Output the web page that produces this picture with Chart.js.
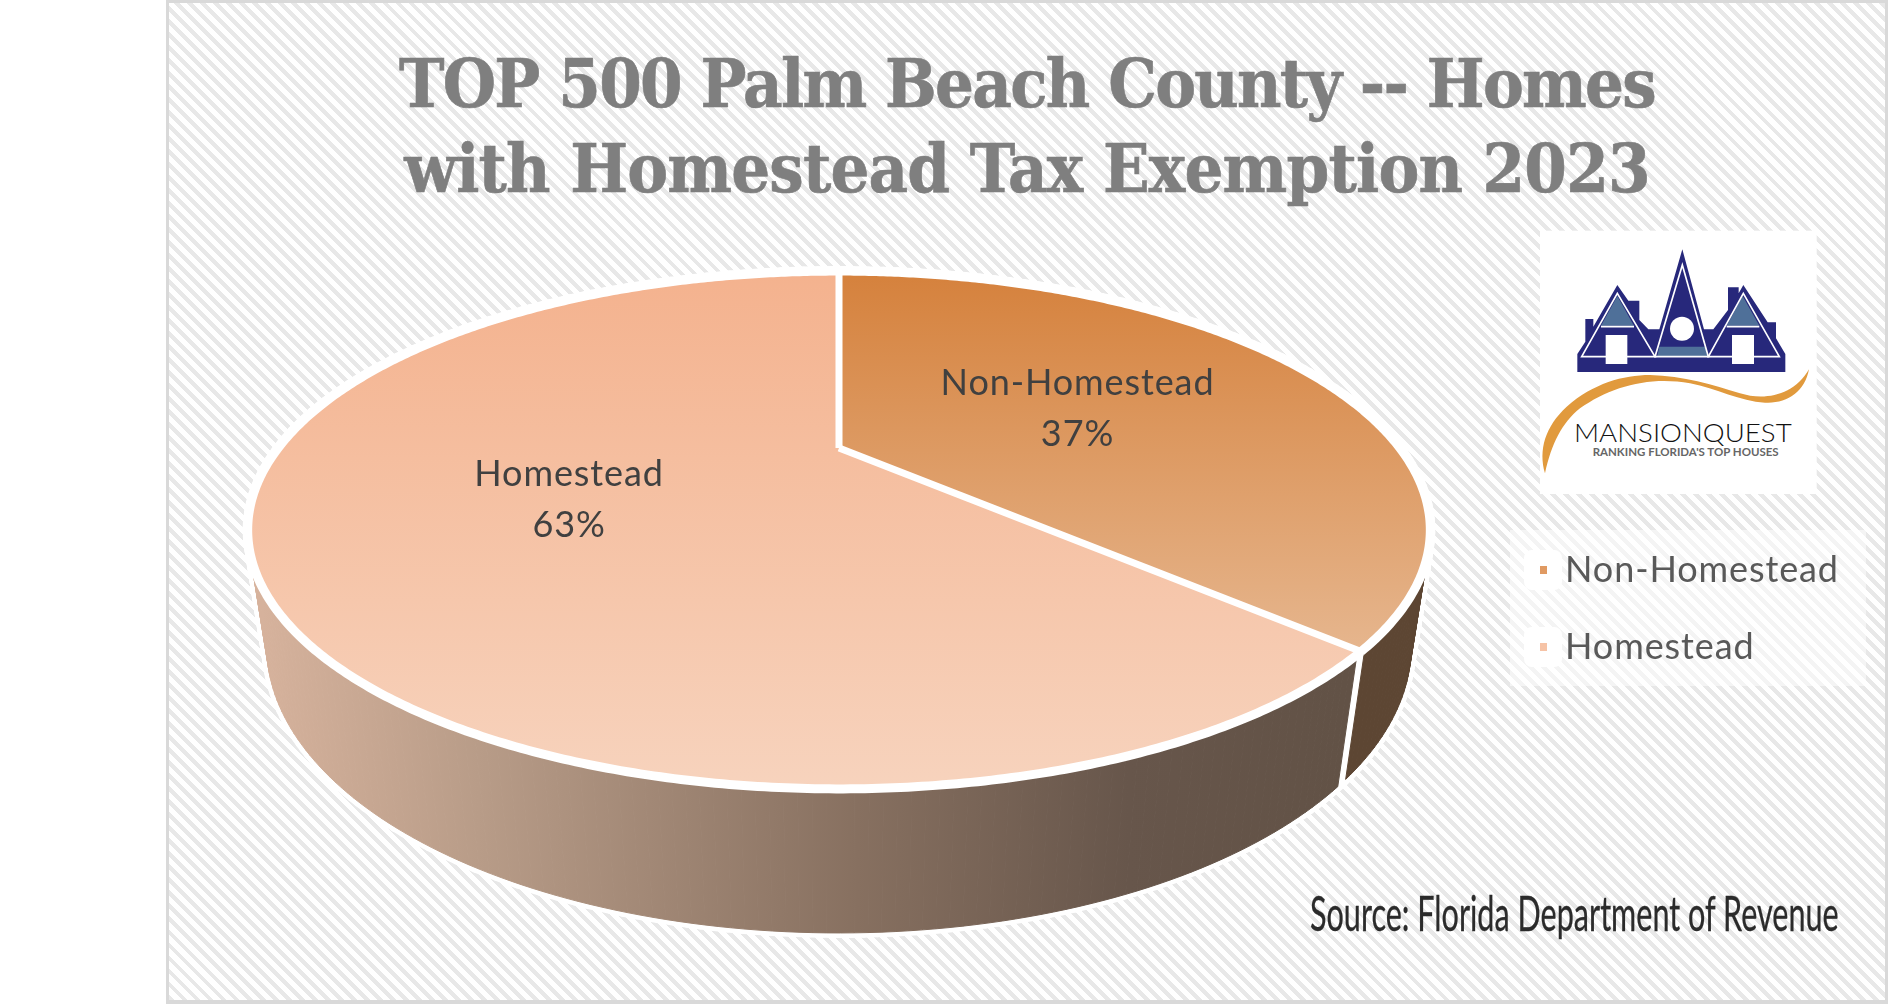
<!DOCTYPE html>
<html>
<head>
<meta charset="utf-8">
<title>TOP 500 Palm Beach County</title>
<script src="https://cdn.jsdelivr.net/npm/chart.js@4"></script>
<style>
  html, body { margin: 0; padding: 0; background: #fff; }
  body { position: relative; width: 1888px; height: 1004px; overflow: hidden; }
  #frame {
    position: absolute; left: 166px; top: 0; width: 1722px; height: 1004px; box-sizing: border-box;
    border: 3px solid #d9d9d9; border-bottom-width: 4px;
    background: repeating-linear-gradient(45deg, #e8e8e8 0, #e8e8e8 4.2px, #fff 4.2px, #fff 9.2px);
  }
  #pie { position: absolute; left: 0; top: 0; }
  #title {
    position: absolute; left: 166px; width: 1722px; top: 41px; text-align: center;
    font: bold 68px/85px "DejaVu Serif Condensed", "DejaVu Serif", serif; font-stretch: condensed; color: #7f7f7f;
    -webkit-text-stroke: .6px #7f7f7f;
  }
  #title span { display: block; white-space: nowrap; }
  #title .l1 { letter-spacing: -1.7px; }
  #title .l2 { letter-spacing: -.8px; }
  #logo { position: absolute; left: 1500px; top: 210px; }
  #legendBand { position: absolute; left: 1510px; top: 530px; width: 356px; height: 156px; background: rgba(255,255,255,.5); }
  #legend { position: absolute; left: 1524px; top: 528px; }
  .item { position: absolute; left: 0; width: 340px; height: 40px; }
  .pad { position: absolute; left: 0; top: 2px; width: 38px; height: 40px; background: #fff; border-radius: 8px; }
  .swatch { position: absolute; left: 16px; top: 18px; width: 7px; height: 8px; }
  .name { position: absolute; left: 41px; top: -6px; font: 36px/52px Lato, sans-serif; letter-spacing: .9px; color: #595959; white-space: nowrap; }
  #source {
    position: absolute; left: 1310px; top: 885px; font: 48px/56px Lato, sans-serif; color: #2b2b2b;
    -webkit-text-stroke: .3px #2b2b2b;
    transform: scale(.637, 1); transform-origin: left top; white-space: nowrap; filter: blur(.4px);
  }
</style>
</head>
<body>
<div id="frame"></div>
<canvas id="pie" width="1888" height="1004"></canvas>
<div id="title"><span class="l1">TOP 500 Palm Beach County -- Homes</span><span class="l2">with Homestead Tax Exemption 2023</span></div>

<svg id="logo" width="388" height="490" viewBox="0 0 1164 1470">
  <rect x="120" y="62" width="830" height="790" fill="#fff"/>
  <polygon fill="#27287b" points="232,486 856,486 856,432 828,385 828,337 803,337 730,225 716,250 716,232 684,232 684,300 640,358 612,358 547,118 478,358 445,358 418,330 418,272 385,272 352,225 280,350 280,327 256,327 256,395 232,432"/>
  <polygon fill="#4f7099" points="352,258 303,347 402,347"/>
  <polygon fill="#4f7099" points="728,258 680,347 778,347"/>
  <polygon fill="#4f7099" points="478,410 616,410 622,438 472,438"/>
  <g fill="none" stroke="#fff" stroke-width="5">
    <polygon points="352,250 245,440 465,440"/>
    <polygon points="730,250 625,440 838,440"/>
    <polygon points="547,165 465,440 625,440"/>
    <line x1="303" y1="350" x2="402" y2="350"/>
    <line x1="680" y1="350" x2="778" y2="350"/>
  </g>
  <circle cx="546" cy="356" r="36" fill="#fff"/>
  <rect x="317" y="375" width="65" height="87" fill="#fff"/>
  <rect x="696" y="375" width="66" height="87" fill="#fff"/>
  <path fill="#e19a3d" d="M135,790 C115,720 135,650 200,590 C280,520 370,495 450,495 C550,497 640,525 720,550 C790,572 880,560 927,478 C915,545 860,582 795,578 C720,575 650,535 570,520 C450,497 330,530 240,595 C185,640 155,700 135,790 Z"/>
  <text x="222" y="695" font-family="Lato, sans-serif" font-weight="300" font-size="76" fill="#111" textLength="653" lengthAdjust="spacingAndGlyphs">MANSIONQUEST</text>
  <text x="278" y="738" font-family="Lato, sans-serif" font-size="34" font-weight="bold" fill="#666" textLength="558" lengthAdjust="spacingAndGlyphs">RANKING FLORIDA'S TOP HOUSES</text>
</svg>

<div id="legendBand"></div>
<div id="legend"></div>
<div id="source">Source: Florida Department of Revenue</div>

<script>
const categories = ['Non-Homestead', 'Homestead'];
const shares = [37, 63];

// top face gradients, wall colours and how the disc is tilted
const topGradients = [['#d5813c', '#e6b68e'], ['#f4b28e', '#f7d3bd']];
const wallStops = [[0, '#d6b29c'], [0.2, '#b89c88'], [0.55, '#877060'], [0.8, '#67564b'], [1, '#625246']];
const darkWall = '#5d4633';
const swatchColors = ['#e09a62', '#f6c3a6'];
const TILT = { sx: 1.252, sy: 0.52, k: 0.3166, depthW: 0.03, drop: 113 };
const LABEL_FONT = '36px Lato, sans-serif';

// perspective projection of a point of the flat pie; depth 0 = top face, 1 = bottom
function project(arc, angle, t, depth) {
  const R = arc.outerRadius;
  const c = Math.cos(angle) * t, s = Math.sin(angle) * t;
  const w = 1 + TILT.depthW * depth - TILT.k * s;
  return {
    x: arc.x + TILT.sx * R * c / w,
    y: arc.y + (TILT.sy * R * s + TILT.drop * depth) / w
  };
}

function wallStrips(arc, inset) {
  const strips = [];
  const from = arc.startAngle + inset, to = arc.endAngle - inset;
  const step = Math.PI / 180;
  for (let a = from; a < to; a += step) {
    const b = Math.min(a + step, to);
    strips.push([project(arc, a, 1, 0), project(arc, b, 1, 0), project(arc, b, 1, 1), project(arc, a, 1, 1)]);
  }
  return strips;
}

function tracePoly(ctx, pts) {
  ctx.beginPath();
  pts.forEach((p, i) => i ? ctx.lineTo(p.x, p.y) : ctx.moveTo(p.x, p.y));
  ctx.closePath();
}

function topFace(arc) {
  const pts = [{ x: arc.x, y: arc.y }];
  for (let a = arc.startAngle; a < arc.endAngle; a += Math.PI / 360) pts.push(project(arc, a, 1, 0));
  pts.push(project(arc, arc.endAngle, 1, 0));
  return pts;
}

const pie3d = {
  id: 'pie3d',
  beforeDatasetDraw(chart) {
    const ctx = chart.ctx;
    const arcs = chart.getDatasetMeta(0).data;
    ctx.save();
    ctx.lineJoin = 'round';

    // white edge round the wall
    ctx.strokeStyle = '#fff';
    ctx.lineWidth = 10;
    arcs.forEach(arc => wallStrips(arc, 0).forEach(q => { tracePoly(ctx, q); ctx.stroke(); }));

    const wallGrad = ctx.createLinearGradient(262, 0, 1345, 0);
    wallStops.forEach(s => wallGrad.addColorStop(s[0], s[1]));
    arcs.forEach((arc, i) => {
      const fill = i === 0 ? darkWall : wallGrad;
      ctx.fillStyle = fill;
      ctx.strokeStyle = fill;
      ctx.lineWidth = 1;
      wallStrips(arc, 0.012).forEach(q => { tracePoly(ctx, q); ctx.fill(); ctx.stroke(); });
    });

    // top faces, white rim and dividers go over the fills
    arcs.forEach((arc, i) => {
      const pts = topFace(arc);
      const ys = pts.map(p => p.y);
      const g = ctx.createLinearGradient(0, Math.min(...ys), 0, Math.max(...ys));
      g.addColorStop(0, topGradients[i][0]);
      g.addColorStop(1, topGradients[i][1]);
      tracePoly(ctx, pts);
      ctx.fillStyle = g;
      ctx.fill();
    });
    ctx.strokeStyle = '#fff';
    ctx.lineWidth = 9;
    arcs.forEach(arc => {
      ctx.beginPath();
      topFace(arc).slice(1).forEach((p, i) => i ? ctx.lineTo(p.x, p.y) : ctx.moveTo(p.x, p.y));
      ctx.stroke();
    });
    ctx.lineWidth = 7;
    arcs.forEach(arc => {
      const a = project(arc, arc.startAngle, 1, 0);
      ctx.beginPath();
      ctx.moveTo(a.x, a.y);
      ctx.lineTo(arc.x, arc.y);
      ctx.stroke();
    });
    ctx.restore();
    return false;
  },
  afterDatasetsDraw(chart) {
    const ctx = chart.ctx;
    const arcs = chart.getDatasetMeta(0).data;
    ctx.save();
    ctx.font = LABEL_FONT;
    ctx.letterSpacing = '.9px';
    ctx.fillStyle = '#404040';
    ctx.textAlign = 'center';
    ctx.textBaseline = 'middle';
    arcs.forEach((arc, i) => {
      const p = project(arc, (arc.startAngle + arc.endAngle) / 2, 0.492, 0);
      ctx.fillText(categories[i], p.x, p.y - 22);
      ctx.fillText(shares[i] + '%', p.x, p.y + 29);
    });
    ctx.restore();
  }
};

const chart = new Chart(document.getElementById('pie'), {
  type: 'pie',
  data: {
    labels: categories,
    datasets: [{ data: shares, backgroundColor: swatchColors, borderWidth: 0 }]
  },
  options: {
    responsive: false,
    animation: false,
    layout: { padding: { left: 391, right: 601, top: 0, bottom: 108 } },
    plugins: { legend: { display: false }, tooltip: { enabled: false } }
  },
  plugins: [pie3d]
});

// legend is plain html, built from the chart labels
const legend = document.getElementById('legend');
chart.data.labels.forEach((label, i) => {
  const item = document.createElement('div');
  item.className = 'item';
  item.style.top = (20 + i * 77) + 'px';
  item.innerHTML = `<div class="pad"></div><div class="swatch" style="background:${swatchColors[i]}"></div><div class="name">${label}</div>`;
  legend.appendChild(item);
});
</script>
</body>
</html>
